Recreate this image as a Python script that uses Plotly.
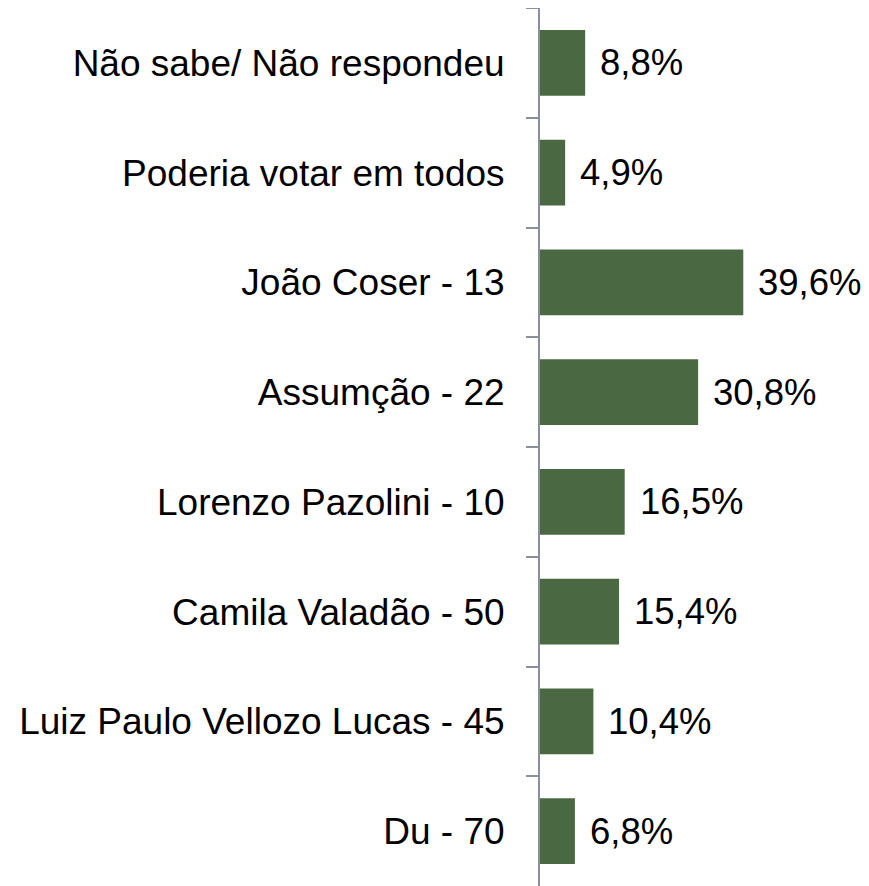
import plotly.graph_objects as go

categories = [
    "Não sabe/ Não respondeu",
    "Poderia votar em todos",
    "João Coser - 13",
    "Assumção - 22",
    "Lorenzo Pazolini - 10",
    "Camila Valadão - 50",
    "Luiz Paulo Vellozo Lucas - 45",
    "Du - 70",
]
values = [8.8, 4.9, 39.6, 30.8, 16.5, 15.4, 10.4, 6.8]
value_labels = ["8,8%", "4,9%", "39,6%", "30,8%", "16,5%", "15,4%", "10,4%", "6,8%"]

FONT = "Liberation Sans, Arial, sans-serif"

fig = go.Figure()
fig.add_trace(go.Bar(
    x=values,
    y=categories,
    orientation="h",
    width=0.6,
    marker=dict(color="rgb(74,104,66)", line=dict(width=0)),
    hoverinfo="skip",
))

for c, v, t in zip(categories, values, value_labels):
    fig.add_annotation(
        x=v, y=c, text=t, showarrow=False,
        xanchor="left", yanchor="middle", xshift=13,
        font=dict(family=FONT, size=36.5, color="black"),
    )

fig.update_layout(
    width=861, height=878,
    margin=dict(l=532, r=21, t=0, b=0),
    paper_bgcolor="white",
    plot_bgcolor="white",
    showlegend=False,
    font=dict(family=FONT, size=37, color="black"),
)
fig.update_xaxes(range=[0, 60], visible=False, showgrid=False, zeroline=False)
fig.update_yaxes(
    autorange="reversed",
    showline=True, linecolor="#8A9099", linewidth=2,
    ticks="outside", tickson="boundaries", ticklen=12, tickcolor="#8A9099", tickwidth=2,
    ticklabelstandoff=26,
    showgrid=False, zeroline=False,
    tickfont=dict(family=FONT, size=37, color="black"),
)

fig.write_html("out.html")
